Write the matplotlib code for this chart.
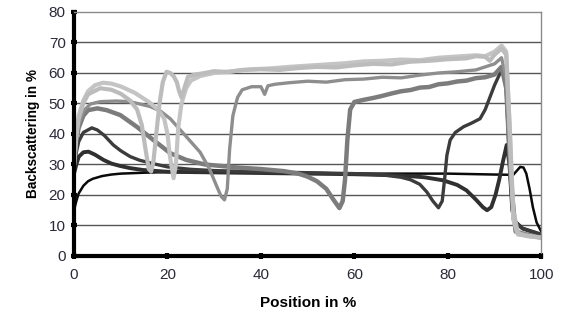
import matplotlib.pyplot as plt

plt.rcParams['font.family'] = ['Liberation Sans', 'DejaVu Sans']

# backscattering profiles (position %, backscattering %)
pos_a = [0, 0.5, 1, 2, 3, 4, 6, 8, 10, 15, 20, 40, 60, 80, 90, 94, 94.8, 95.5, 96.2, 96.8, 97.5, 98.2, 99, 100]
bs_a = [15, 18, 20.5, 23, 24.5, 25.3, 26.2, 26.7, 27, 27.3, 27.5, 27.5, 27, 27, 26.7, 26.6, 28, 29.2, 29, 27, 22, 16, 11, 8]

pos_b = [0, 0.5, 1, 2, 3.1, 4.5, 6.3, 8, 9.9, 12, 14.7, 20, 40, 60, 70, 75, 79, 82, 84, 86, 87.5, 88.4, 89.3,
         90.2, 91, 91.8, 92.6, 93.2, 93.8, 94.5, 96, 98, 100]
bs_b = [27, 30, 32.5, 34, 34.2, 33.2, 31.5, 30.3, 29.5, 28.8, 28.2, 27.6, 27.2, 26.8, 26.4, 25.8, 24.8, 23.3, 21.5,
        18.5, 16, 15, 16, 20, 25, 31, 36.4, 30, 15, 11, 9, 8, 7]

pos_c = [0, 0.5, 1, 2, 3.8, 5, 6.5, 8.4, 10, 12, 14, 16.3, 20, 25, 30, 40, 60, 66, 70, 72, 74, 75.5, 76.8, 78, 78.8,
         79.3, 79.8, 80.5, 81.6, 83.4, 85, 86.9, 88, 89, 90, 91.2, 91.8, 92.5, 93.2, 94, 96, 100]
bs_c = [28, 34, 37.5, 40.5, 42, 41.3, 39.5, 36.4, 34.5, 32.6, 31.4, 30.5, 29.2, 28.4, 28, 27.6, 27, 26.6, 25.8, 25,
        23.5, 21, 18, 15.8, 18, 25, 33, 38, 40.5, 42.4, 43.5, 45, 48, 52, 56, 60, 62, 55, 30, 12, 9, 7]

pos_d = [0, 0.5, 1, 2, 3, 5, 7, 9.9, 13.4, 17, 20.6, 24, 28, 35, 40, 45, 48, 50, 52, 54, 55.5, 56.8, 57.5, 58, 58.5,
         59.1, 60, 62, 64, 66, 68, 70, 72, 74, 76, 78, 80, 82, 84, 86, 88, 90, 91.5, 92.5, 93.5, 94.5, 97, 100]
bs_d = [30, 38, 42, 46, 47.8, 48.4, 47.8, 46.2, 42.4, 38, 33.7, 31.5, 30, 29, 28.5, 27.8, 27, 26, 24.5, 22, 18.5,
        15.7, 18, 25, 38, 48, 50.5, 51.2, 51.8, 52.5, 53.3, 54, 54.4, 55.2, 55.4, 56.3, 56.6, 57.2, 57.5, 58.3, 58.6,
        59.5, 62, 55, 25, 8, 7, 6]

pos_e = [0, 0.5, 1, 2, 3.5, 5.6, 9, 12, 16.3, 18.5, 20.6, 24.1, 27, 29, 30.5, 31.5, 32.2, 32.8, 33.3, 34, 35, 36,
         38, 40, 40.8, 41.5, 43, 46, 50, 54, 58, 62, 66, 70, 74, 78, 82, 86, 88, 90, 91.5, 92.5, 93.5, 94.5, 97, 100]
bs_e = [30, 38, 43, 47.5, 49.8, 50.6, 50.8, 50.6, 49, 47.5, 45, 39, 34, 28.5, 23, 19.5, 18.4, 22, 35, 46, 52, 54.5,
        55.5, 55.5, 53, 55.8, 56.3, 56.8, 57.3, 57, 57.8, 58, 58.6, 58.4, 59.3, 60, 60.4, 61, 62, 63, 65, 58, 25, 8, 7, 6]

pos_f = [0, 0.5, 1, 2, 3, 5.6, 8, 10, 12, 13.5, 14.5, 15.3, 16, 16.5, 17, 17.6, 18.3, 19, 19.8, 20.6, 21.3, 22, 22.5,
         23, 23.6, 24.4, 26, 28, 30, 33, 36, 40, 44, 48, 52, 56, 60, 64, 68, 72, 76, 80, 84, 86, 88, 89, 90, 91.5, 92.5,
         93.3, 94, 95, 97, 100]
bs_f = [30, 40, 45, 50, 53, 55, 54.5, 53.2, 51, 48, 43, 35, 28.5, 27.7, 31, 40, 50, 57, 60.4, 60, 59, 57, 54, 52, 55,
        58.8, 59.5, 60, 60.6, 60.3, 61, 61.2, 61, 61.6, 62, 61.8, 62.5, 63, 62.8, 63.7, 64, 64.5, 64.8, 65.5, 65.3, 64,
        66, 68, 66, 40, 15, 7.5, 6.5, 6]

pos_g = [0, 0.5, 1, 2, 3, 4.5, 6.2, 8, 10, 13, 16, 18, 19.3, 20, 20.5, 21.3, 21.8, 22.3, 23, 24, 25, 27, 30, 34, 38, 42,
         46, 50, 54, 58, 62, 66, 70, 74, 78, 82, 86, 88, 90, 91.5, 92.5, 93.3, 94, 95, 100]
bs_g = [30, 40, 46, 51, 54, 56, 56.8, 56.5, 55.6, 53.5, 50.5, 48, 45, 40, 33, 25.5, 30, 42, 50, 55, 57.5, 59, 60, 60.6,
        61.2, 61.5, 62, 62.4, 62.8, 63.2, 63.8, 64, 64.4, 64.2, 65, 65.4, 65.8, 65.5, 67, 69, 67, 40, 12, 7, 6]

profiles = [
    (pos_a, bs_a, '#0a0a0a', 1.8),
    (pos_b, bs_b, '#303030', 2.8),
    (pos_c, bs_c, '#3c3c3c', 2.4),
    (pos_d, bs_d, '#7c7c7c', 3.2),
    (pos_e, bs_e, '#8e8e8e', 2.4),
    (pos_g, bs_g, '#c4c4c4', 3.0),
    (pos_f, bs_f, '#bcbcbc', 3.0),
]

fig = plt.figure(figsize=(5.65, 3.24), dpi=100)
ax = fig.add_axes([0.131, 0.21, 0.827, 0.753])

for y in range(10, 80, 10):
    ax.axhline(y, color='#555555', lw=1.0, zorder=0)

for x, y, c, lw in profiles:
    ax.plot(x, y, color=c, lw=lw, solid_joinstyle='round', solid_capstyle='round')

ax.set_xlim(0, 100)
ax.set_ylim(0, 80)
ax.set_xticks(range(0, 101, 20))
ax.set_yticks(range(0, 81, 10))

for s in ['left', 'bottom']:
    ax.spines[s].set_linewidth(3)
    ax.spines[s].set_color('black')
for s in ['top', 'right']:
    ax.spines[s].set_linewidth(1)
    ax.spines[s].set_color('#8a8a8a')

ax.tick_params(axis='both', direction='inout', length=5, width=3, colors='black',
               labelcolor='#2a2a3a', labelsize=11)
ax.tick_params(axis='x', pad=6)

ax.set_xlabel('Position in %', fontweight='bold', fontsize=11, labelpad=10)
ax.set_ylabel('Backscattering in %', fontweight='bold', fontsize=9.8, labelpad=6)

fig.savefig('out.png', dpi=100)
